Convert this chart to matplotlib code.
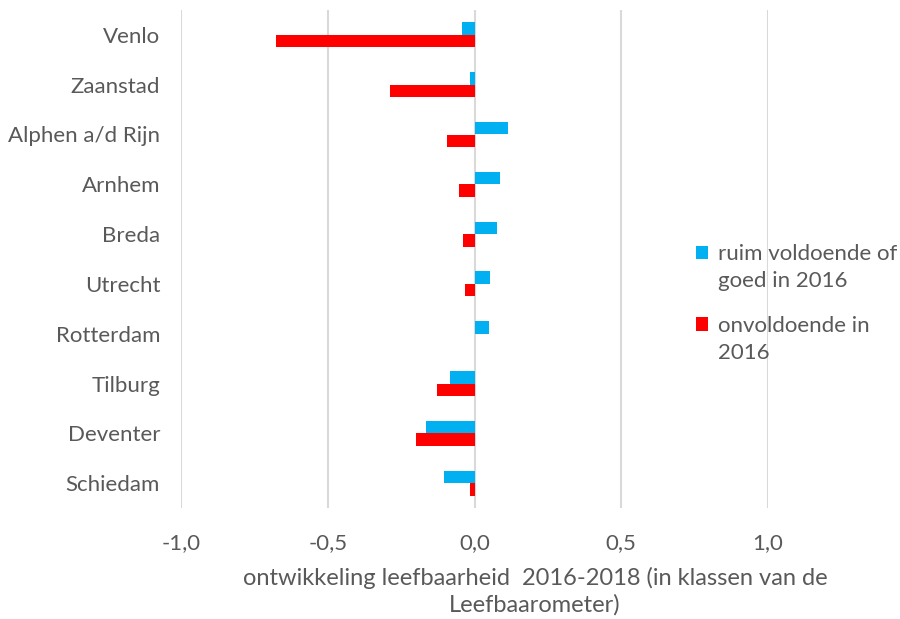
import matplotlib
matplotlib.use("Agg")
import matplotlib.pyplot as plt
import numpy as np
from matplotlib.ticker import FuncFormatter, MultipleLocator

# data
cities = ["Venlo", "Zaanstad", "Alphen a/d Rijn", "Arnhem", "Breda",
          "Utrecht", "Rotterdam", "Tilburg", "Deventer", "Schiedam"]
goed_2016 = [-0.044, -0.014, 0.114, 0.087, 0.078, 0.052, 0.048, -0.083, -0.166, -0.105]
onvoldoende_2016 = [-0.677, -0.289, -0.092, -0.052, -0.039, -0.031, 0.0, -0.127, -0.201, -0.014]
series_names = ["ruim voldoende of\ngoed in 2016", "onvoldoende in\n2016"]
xlabel_lines = ["ontwikkeling leefbaarheid  2016-2018 (in klassen van de", "Leefbaarometer)"]

grey = "#595959"
plt.rcParams['font.family'] = ['Lato', 'DejaVu Sans']

fig = plt.figure(figsize=(9, 6.19), dpi=100)
ax = fig.add_axes([181 / 900, 1 - 508 / 619, (768 - 181) / 900, 498 / 619])

y = np.arange(len(cities))
h = 0.25
ax.barh(y - h / 2, goed_2016, height=h, color="#00B0F0", label=series_names[0], zorder=3)
ax.barh(y + h / 2, onvoldoende_2016, height=h, color="#FF0000", label=series_names[1], zorder=3)

ax.set_xlim(-1, 1)
ax.set_ylim(len(cities) - 0.5, -0.5)
ax.xaxis.set_major_locator(MultipleLocator(0.5))
ax.xaxis.set_major_formatter(FuncFormatter(lambda v, p: f"{v:.1f}".replace(".", ",")))
ax.set_yticks(y)
ax.set_yticklabels(cities)
ax.grid(axis="x", color="#d9d9d9", linewidth=1.5, zorder=0)
for s in ax.spines.values():
    s.set_visible(False)
ax.tick_params(axis="both", length=0, labelsize=16, labelcolor=grey)
ax.tick_params(axis="y", pad=15)
ax.tick_params(axis="x", pad=18)

fig.text(535 / 900, 1 - 578 / 619, xlabel_lines[0], ha="center", va="center", fontsize=17, color=grey)
fig.text(535 / 900, 1 - 605 / 619, xlabel_lines[1], ha="center", va="center", fontsize=17, color=grey)

leg = ax.legend(loc="upper left", bbox_to_anchor=(676 / 900, 1 - 224 / 619),
                bbox_transform=fig.transFigure, frameon=False, fontsize=16,
                handlelength=0.55, handleheight=0.55, handletextpad=0.45, labelspacing=1.1)
for t in leg.get_texts():
    t.set_color(grey)
    t.set_linespacing(1.45)
# square markers sit next to the first line of each label
for p in leg.get_patches():
    p.set_y(p.get_y() + 11)

fig.savefig("out.png", dpi=100)
